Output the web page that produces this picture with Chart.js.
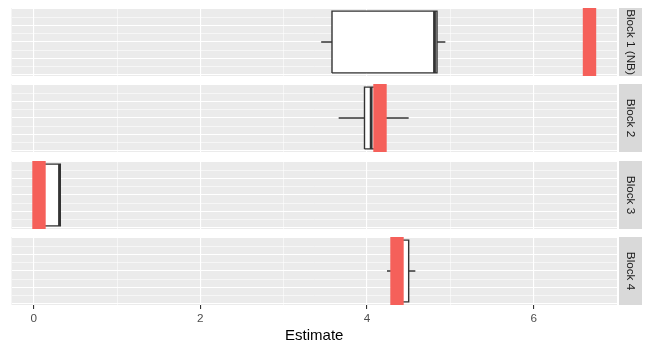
<!DOCTYPE html>
<html lang="en">
<head>
<meta charset="UTF-8">
<title>Estimate by block</title>
<script src="https://cdn.jsdelivr.net/npm/chart.js"></script>
<style>
  body { margin: 0; background: #fff; }
  #wrap { position: relative; width: 650px; height: 350px; }
  #wrap canvas { position: absolute; left: 0; }
</style>
</head>
<body>
<div id="wrap"></div>
<script>
// facet labels and values
const blocks = ['Block 1 (NB)', 'Block 2', 'Block 3', 'Block 4'];
const whiskerLow = [3.45, 3.66, 0.03, 4.24];
const boxLow = [3.58, 3.97, 0.04, 4.30];
const medians = [4.81, 4.05, 0.31, 4.38];
const boxHigh = [4.84, 4.10, 0.32, 4.50];
const whiskerHigh = [4.94, 4.50, 0.32, 4.58];
const observed = [6.67, 4.156, 0.064, 4.36];

const xMajor = [0, 2, 4, 6];
const xMinor = [1, 3, 5];
const yMajor = [-0.4, -0.2, 0, 0.2, 0.4];
const yMinor = [-0.3, -0.1, 0.1, 0.3];

const xMin = -0.266, xMax = 7.0;
const yMin = -0.4125, yMax = 0.4125;
const halfBox = 0.375;
const panelTops = [8, 84, 161, 237];
const panelH = 68;

const RED = '#F5605A';
const INK = '#333333';
const FONT = '"Liberation Sans", Arial, Helvetica, sans-serif';

const panelBg = {
  id: 'panelBg',
  beforeDraw(chart) {
    const {ctx, chartArea: a} = chart;
    ctx.save();
    ctx.fillStyle = '#EBEBEB';
    ctx.fillRect(a.left, a.top, a.right - a.left, a.bottom - a.top);
    ctx.restore();
  }
};

const strip = {
  id: 'strip',
  afterDraw(chart, args, opts) {
    const {ctx, chartArea: a} = chart;
    ctx.save();
    ctx.fillStyle = '#D9D9D9';
    ctx.fillRect(619, a.top, 23, a.bottom - a.top);
    ctx.translate(630.5, (a.top + a.bottom) / 2);
    ctx.rotate(Math.PI / 2);
    ctx.fillStyle = '#1A1A1A';
    ctx.font = '11.7px ' + FONT;
    ctx.textAlign = 'center';
    ctx.textBaseline = 'middle';
    ctx.fillText(opts.text, 0, 0);
    ctx.restore();
  }
};

function seg(x1, y1, x2, y2, width, color) {
  return {
    data: [{x: x1, y: y1}, {x: x2, y: y2}],
    borderColor: color, borderWidth: width, borderCapStyle: 'butt',
    pointRadius: 0, showLine: true, fill: false
  };
}

function makePanel(i) {
  const last = i === blocks.length - 1;
  const top = panelTops[i] - 4;
  const h = last ? 350 - top : panelH + 8;
  const canvas = document.createElement('canvas');
  canvas.width = 650;
  canvas.height = h;
  canvas.style.top = top + 'px';
  document.getElementById('wrap').appendChild(canvas);

  const datasets = [
    seg(observed[i], yMin, observed[i], yMax, 13.4, RED),
    seg(medians[i], -halfBox, medians[i], halfBox, 2.8, INK),
    seg(whiskerLow[i], 0, boxLow[i], 0, 1.5, INK),
    seg(boxHigh[i], 0, whiskerHigh[i], 0, 1.5, INK),
    {
      data: [
        {x: boxLow[i], y: -halfBox}, {x: boxHigh[i], y: -halfBox},
        {x: boxHigh[i], y: halfBox}, {x: boxLow[i], y: halfBox},
        {x: boxLow[i], y: -halfBox}
      ],
      borderColor: INK, borderWidth: 1.4, backgroundColor: '#FFFFFF',
      fill: 'shape', pointRadius: 0, showLine: true
    }
  ];

  new Chart(canvas, {
    type: 'scatter',
    data: {datasets},
    plugins: [panelBg, strip],
    options: {
      responsive: false,
      animation: false,
      events: [],
      layout: {padding: {left: 11.5, right: 33, top: 4, bottom: last ? 0 : 4}},
      plugins: {legend: {display: false}, tooltip: {enabled: false}, strip: {text: blocks[i]}},
      scales: {
        x: {
          type: 'linear', min: xMin, max: xMax,
          afterBuildTicks: s => { s.ticks = xMajor.concat(xMinor).sort((a, b) => a - b).map(v => ({value: v})); },
          afterFit: s => { s.height = last ? 45 : 0; },
          border: {display: false},
          grid: {
            color: '#FFFFFF',
            lineWidth: c => xMajor.includes(c.tick.value) ? 1.1 : 0.55,
            drawTicks: last,
            tickLength: 4,
            tickWidth: 1.1,
            tickColor: c => xMajor.includes(c.tick.value) ? INK : 'rgba(0,0,0,0)'
          },
          ticks: {
            display: last,
            padding: 2.5,
            color: '#4D4D4D',
            font: {family: FONT, size: 11.7},
            maxRotation: 0,
            callback: v => xMajor.includes(v) ? String(v) : ''
          },
          title: {
            display: last, text: 'Estimate', color: '#000000',
            font: {family: FONT, size: 15}, padding: {top: 0, bottom: 5.5}
          }
        },
        y: {
          type: 'linear', min: yMin, max: yMax,
          afterBuildTicks: s => { s.ticks = yMajor.concat(yMinor).sort((a, b) => a - b).map(v => ({value: v})); },
          afterFit: s => { s.width = 0; },
          border: {display: false},
          grid: {
            color: '#FFFFFF',
            lineWidth: c => yMajor.includes(c.tick.value) ? 1.1 : 0.55,
            drawTicks: false
          },
          ticks: {display: false}
        }
      }
    }
  });
}

blocks.forEach((b, i) => makePanel(i));
</script>
</body>
</html>
